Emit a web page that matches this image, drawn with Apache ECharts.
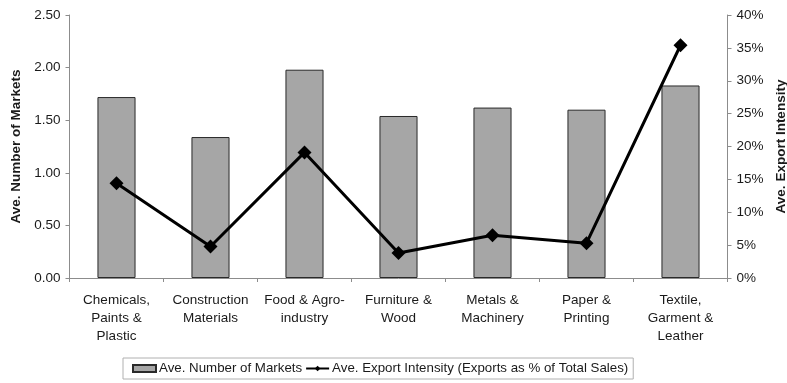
<!DOCTYPE html>
<html>
<head>
<meta charset="utf-8">
<script src="https://cdn.jsdelivr.net/npm/echarts@6/dist/echarts.min.js"></script>
<style>
  html, body { margin: 0; padding: 0; background: #fff; }
  #chart { width: 787px; height: 383px; }
</style>
</head>
<body>
<div id="chart"></div>
<script>
// Sector labels (line breaks as they appear under the axis)
const sectors = [
  'Chemicals,\nPaints &\nPlastic',
  'Construction\nMaterials',
  'Food & Agro-\nindustry',
  'Furniture &\nWood',
  'Metals &\nMachinery',
  'Paper &\nPrinting',
  'Textile,\nGarment &\nLeather'
];
// Average number of export markets per firm
const avgMarkets = [1.72, 1.34, 1.98, 1.54, 1.62, 1.60, 1.83];
// Average export intensity, exports as % of total sales
const exportIntensity = [14.4, 4.8, 19.1, 3.8, 6.5, 5.3, 35.4];

const barName = 'Ave. Number of Markets';
const lineName = 'Ave. Export Intensity (Exports as % of Total Sales)';

const textColor = '#1a1a1a';
const axisColor = '#8c8c8c';
const font = 'Liberation Sans, Arial, sans-serif';
const fs = 13.5;

const chart = echarts.init(document.getElementById('chart'));
chart.setOption({
  animation: false,
  textStyle: { fontFamily: font, color: textColor },
  grid: {
    left: 69.5, right: 59.5, top: 15, bottom: 105,
    containLabel: false,
    outerBoundsMode: 'none'
  },
  legend: {
    left: 123,
    top: 358,
    padding: [4, 5, 4, 9],
    itemGap: 3,
    itemWidth: 23,
    itemHeight: 7,
    borderColor: '#b0b0b0',
    borderWidth: 1,
    textStyle: { fontFamily: font, fontSize: 13.3, color: textColor, padding: [0, 0, 0, -2] },
    data: [
      { name: barName, icon: 'rect' },
      { name: lineName }
    ]
  },
  xAxis: {
    type: 'category',
    data: sectors,
    boundaryGap: true,
    axisLine: { lineStyle: { color: axisColor, width: 1 } },
    axisTick: { show: true, length: 4, lineStyle: { color: axisColor } },
    axisLabel: {
      interval: 0,
      margin: 13,
      fontSize: fs,
      lineHeight: 18,
      color: textColor,
      fontFamily: font,
      align: 'center'
    }
  },
  yAxis: [
    {
      type: 'value',
      min: 0,
      max: 2.5,
      interval: 0.5,
      name: 'Ave. Number of Markets',
      nameLocation: 'middle',
      nameGap: 43,
      nameRotate: 90,
      nameTextStyle: { fontFamily: font, fontSize: fs, fontWeight: 'bold', color: textColor },
      axisLine: { show: true, lineStyle: { color: axisColor } },
      axisTick: { show: true, length: 4, lineStyle: { color: axisColor } },
      axisLabel: {
        margin: 9,
        fontSize: fs,
        color: textColor,
        fontFamily: font,
        formatter: v => v.toFixed(2)
      },
      splitLine: { show: false }
    },
    {
      type: 'value',
      min: 0,
      max: 40,
      interval: 5,
      position: 'right',
      name: 'Ave. Export Intensity',
      nameLocation: 'middle',
      nameGap: 46,
      nameRotate: 90,
      nameTextStyle: { fontFamily: font, fontSize: fs, fontWeight: 'bold', color: textColor },
      axisLine: { show: true, lineStyle: { color: axisColor } },
      axisTick: { show: true, length: 4, lineStyle: { color: axisColor } },
      axisLabel: {
        margin: 9,
        fontSize: fs,
        color: textColor,
        fontFamily: font,
        formatter: '{value}%'
      },
      splitLine: { show: false }
    }
  ],
  series: [
    {
      name: barName,
      type: 'bar',
      yAxisIndex: 0,
      data: avgMarkets,
      barWidth: '40.5%',
      itemStyle: { color: '#a6a6a6', borderColor: '#2a2a2a', borderWidth: 1 }
    },
    {
      name: lineName,
      type: 'line',
      yAxisIndex: 1,
      data: exportIntensity,
      symbol: 'diamond',
      symbolSize: 14,
      lineStyle: { color: '#000', width: 3 },
      itemStyle: { color: '#000' },
      z: 5
    }
  ]
});
</script>
</body>
</html>
